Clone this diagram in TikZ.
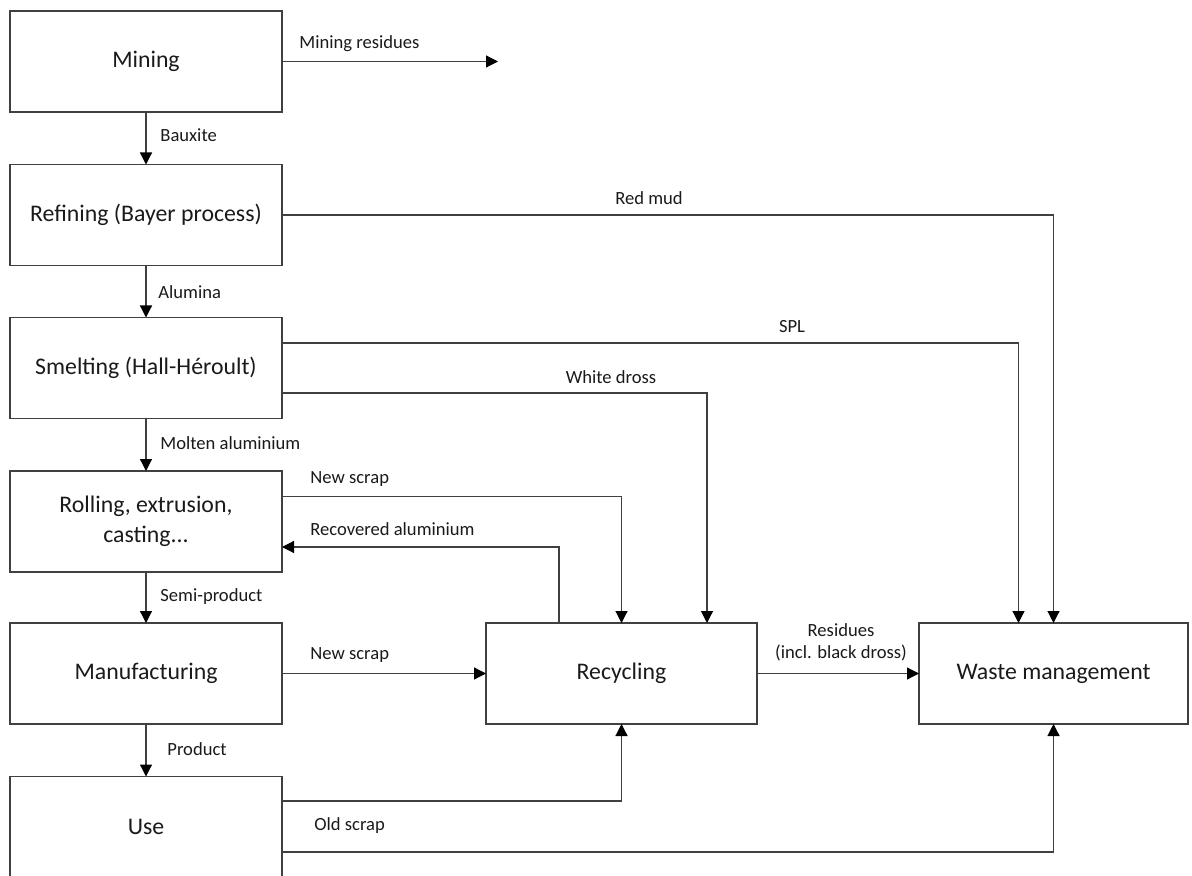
\documentclass[tikz,border=0pt]{standalone}
\usepackage{fontspec}
\setmainfont{Carlito}
\usetikzlibrary{arrows.meta,calc}
\definecolor{linegray}{HTML}{404040}
\definecolor{textdark}{HTML}{1A1A1A}
\tikzset{
  stage/.style={draw=linegray, line width=0.7pt, rectangle, minimum width=136pt,
    minimum height=50.5pt, inner sep=2pt, outer sep=0pt, align=center,
    font=\fontsize{11.9}{15}\selectfont, text=textdark},
  flow/.style={draw=linegray, line width=0.6pt,
    -{Triangle[width=6pt,length=6pt,color=black]}},
  tag/.style={font=\fontsize{9.3}{11}\selectfont, text=textdark, inner sep=0pt, align=center}
}
\begin{document}
\begin{tikzpicture}[x=0.5pt,y=-0.5pt]
\useasboundingbox (0,0) rectangle (1192,876);
\clip (0,0) rectangle (1192,876);
% process stages
\node[stage] (mining)   at (146,61.5)  {Mining};
\node[stage] (refining) at (146,215)   {Refining (Bayer process)};
\node[stage] (smelting) at (146,368)   {Smelting (Hall-Héroult)};
\node[stage] (rolling)  at (146,521.5) {Rolling, extrusion,\\casting...};
\node[stage] (manuf)    at (146,673.5) {Manufacturing};
\node[stage] (use)      at (146,827)   {Use};
\node[stage, minimum width=135.5pt] (recycling) at (621.5,673.5) {Recycling};
\node[stage, minimum width=134.5pt] (waste)     at (1053.5,673.5) {Waste management};
\coordinate (mresend) at (498,61.5);

% main chain
\draw[flow] (mining) -- (refining);
\draw[flow] (refining) -- (smelting);
\draw[flow] (smelting) -- (rolling);
\draw[flow] (rolling) -- (manuf);
\draw[flow] (manuf) -- (use);

% side flows
\draw[flow] (mining.east) -- (mresend);
\draw[flow] (refining.east) -| (waste.north);
\draw[flow] ($(smelting.east)+(0,-25)$) -| ($(waste.north)+(-35,0)$);
\draw[flow] ($(smelting.east)+(0,25)$) -| ($(recycling.north)+(85.5,0)$);
\draw[flow] ($(rolling.east)+(0,-25)$) -| (recycling.north);
\draw[flow] ($(recycling.north)+(-62.5,0)$) |- ($(rolling.east)+(0,25.5)$);
\draw[flow] (manuf.east) -- (recycling.west);
\draw[flow] (recycling.east) -- (waste.west);
\draw[flow] ($(use.east)+(0,-26)$) -| (recycling.south);
\draw[flow] ($(use.east)+(0,25)$) -| (waste.south);

% flow labels
\node[tag, anchor=west] (lmres)  at (299,44)  {Mining residues};
\node[tag, anchor=west] (lbaux)  at (160,135) {Bauxite};
\node[tag] (lred)   at (649,198) {Red mud};
\node[tag, anchor=west] (lalum)  at (158,292) {Alumina};
\node[tag] (lspl)   at (792,327) {SPL};
\node[tag] (lwd)    at (611,377) {White dross};
\node[tag, anchor=west] (lmolt)  at (160,443) {Molten aluminium};
\node[tag, anchor=west] (lns1)   at (310,479) {New scrap};
\node[tag, anchor=west] (lrec)   at (310,529) {Recovered aluminium};
\node[tag, anchor=west] (lsemi)  at (160,597) {Semi-product};
\node[tag, anchor=west] (lns2)   at (310,655) {New scrap};
\node[tag] (lres)   at (841,642) {Residues\\(incl. black dross)};
\node[tag, anchor=west] (lprod)  at (167,749) {Product};
\node[tag, anchor=west] (lold)   at (314,826) {Old scrap};
\end{tikzpicture}
\end{document}
